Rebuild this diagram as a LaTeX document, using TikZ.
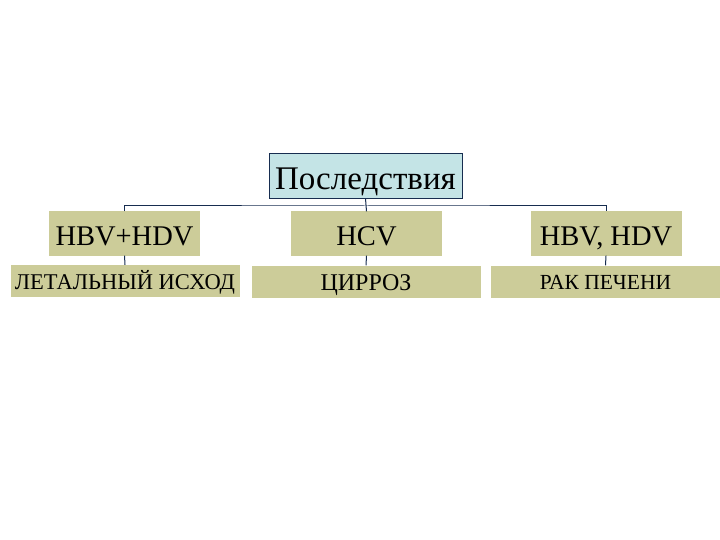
\documentclass[tikz,border=0pt]{standalone}
\usepackage{fontspec}
\setmainfont{Liberation Serif}
\definecolor{tanfill}{RGB}{204,204,153}
\definecolor{topfill}{RGB}{196,228,230}
\definecolor{linecol}{RGB}{23,45,80}
\begin{document}
\begin{tikzpicture}[x=1pt,y=-1pt,
  topbox/.style={draw=linecol,line width=0.8pt,fill=topfill,inner sep=0pt,minimum width=193,minimum height=45,text height=28.8pt,text depth=0pt},
  midbox/.style={fill=tanfill,inner sep=0pt,minimum width=151,minimum height=44,text height=23.8pt,text depth=0pt},
  lowbox/.style={fill=tanfill,inner sep=0pt,minimum width=229,minimum height=32,text depth=0pt},
  conn/.style={draw=linecol,line width=1pt}]
\useasboundingbox (0,0) rectangle (720,540);
\node[topbox] (top) at (365.5,175.5) {\fontsize{33}{38}\selectfont Последствия};
\node[midbox] (l) at (124.5,233.5) {\fontsize{28.5}{32}\selectfont HBV+HDV};
\node[midbox] (c) at (366.5,233.5) {\fontsize{28.5}{32}\selectfont HCV};
\node[midbox] (r) at (606,233.5) {\fontsize{28.5}{32}\selectfont HBV, HDV};
\node[lowbox,text height=16pt] (l2) at (125,281) {\fontsize{22.5}{26}\selectfont ЛЕТАЛЬНЫЙ ИСХОД};
\node[lowbox,text height=17pt] (c2) at (366,281.5) {\fontsize{24}{28}\selectfont ЦИРРОЗ};
\node[lowbox,text height=15.2pt] (r2) at (605.5,281.5) {\fontsize{21.5}{25}\selectfont РАК ПЕЧЕНИ};
\coordinate (bus) at (366,206);
\draw[conn] (l.north) |- (bus) -| (r.north);
\draw[conn] (top.south) -- (c.north);
\draw[conn] (l.south) -- (l2.north);
\draw[conn] (c.south) -- (c2.north);
\draw[conn] (r.south) -- (r2.north);
\end{tikzpicture}
\end{document}
